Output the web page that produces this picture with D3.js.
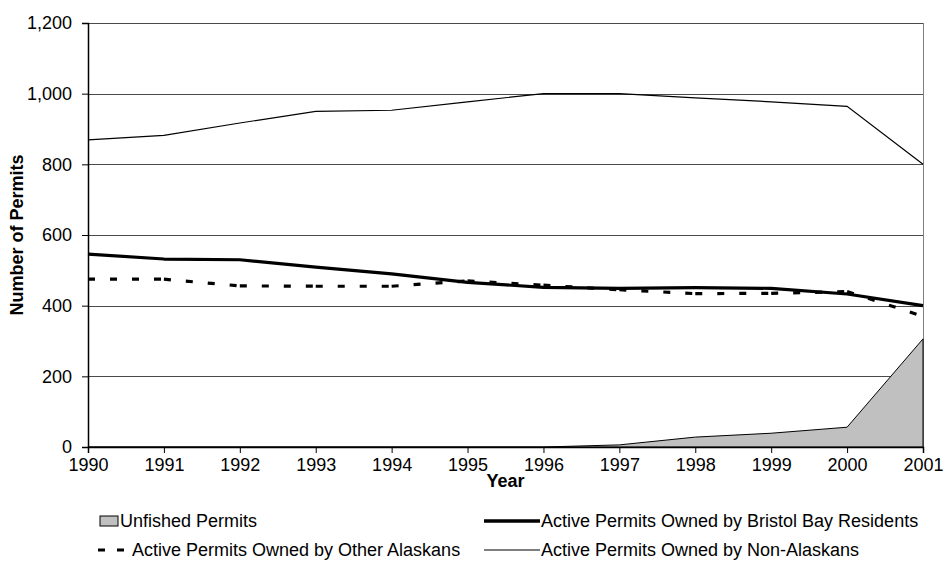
<!DOCTYPE html>
<html>
<head>
<meta charset="utf-8">
<script src="https://cdn.jsdelivr.net/npm/d3@7"></script>
<style>
  html, body { margin: 0; padding: 0; background: #fff; }
  svg { display: block; }
  text { font-family: "Liberation Sans", Arial, sans-serif; fill: #000; }
</style>
</head>
<body>
<svg id="chart" width="946" height="586"></svg>
<script>
// Bristol Bay drift gillnet permits by owner residency, 1990-2001
const years = [1990, 1991, 1992, 1993, 1994, 1995, 1996, 1997, 1998, 1999, 2000, 2001];
const unfished = [0, 0, 0, 0, 0, 0, 0, 6, 28, 39, 56, 306];
const bristolBay = [546, 532, 530, 509, 490, 466, 452, 449, 451, 449, 433, 400];
const otherAlaskans = [475, 475, 456, 455, 455, 470, 458, 445, 434, 435, 440, 370];
const nonAlaskans = [869, 882, 917, 950, 953, 977, 1000, 1000, 988, 977, 964, 800];
const yTicks = [0, 200, 400, 600, 800, 1000, 1200];

const legendItems = [
  { label: "Unfished Permits", kind: "area" },
  { label: "Active Permits Owned by Bristol Bay Residents", kind: "thick" },
  { label: "Active Permits Owned by Other Alaskans", kind: "dash" },
  { label: "Active Permits Owned by Non-Alaskans", kind: "thin" }
];

const svg = d3.select("#chart");
const W = 946, H = 586;
const margin = { top: 23, right: 23, bottom: 139, left: 88 };
const iw = W - margin.left - margin.right;
const ih = H - margin.top - margin.bottom;

const g = svg.append("g").attr("transform", `translate(${margin.left},${margin.top})`);

const x = d3.scaleLinear().domain([1990, 2001]).range([0, iw]);
const y = d3.scaleLinear().domain([0, 1200]).range([ih, 0]);

// horizontal gridlines
g.append("g").selectAll("line")
  .data(yTicks.filter(t => t > 0))
  .join("line")
  .attr("x1", 0).attr("x2", iw)
  .attr("y1", d => Math.round(y(d)) + 0.5).attr("y2", d => Math.round(y(d)) + 0.5)
  .attr("stroke", "#4a4a4a").attr("stroke-width", 1);

// right border of plot area
g.append("line")
  .attr("x1", iw + 0.5).attr("x2", iw + 0.5)
  .attr("y1", y(1200)).attr("y2", ih)
  .attr("stroke", "#808080").attr("stroke-width", 1);

// unfished permits area
const areaGen = d3.area()
  .x((d, i) => x(years[i]))
  .y0(y(0))
  .y1(d => y(d));
g.append("path")
  .datum(unfished)
  .attr("d", areaGen)
  .attr("fill", "#c0c0c0")
  .attr("stroke", "#000")
  .attr("stroke-width", 1)
  .attr("stroke-linejoin", "miter");

const lineGen = d3.line()
  .x((d, i) => x(years[i]))
  .y(d => y(d));

// non-Alaskans: thin solid
g.append("path")
  .datum(nonAlaskans)
  .attr("d", lineGen)
  .attr("fill", "none")
  .attr("stroke", "#000")
  .attr("stroke-width", 1.2);

// other Alaskans: dashed, pattern restarts on each segment
const otherPts = otherAlaskans.map((v, i) => [x(years[i]), y(v)]);
g.append("g").selectAll("line")
  .data(d3.pairs(otherPts))
  .join("line")
  .attr("x1", d => d[0][0]).attr("y1", d => d[0][1])
  .attr("x2", d => d[1][0]).attr("y2", d => d[1][1])
  .attr("stroke", "#000")
  .attr("stroke-width", 3.2)
  .attr("stroke-dasharray", "7,15");

// Bristol Bay residents: thick solid
g.append("path")
  .datum(bristolBay)
  .attr("d", lineGen)
  .attr("fill", "none")
  .attr("stroke", "#000")
  .attr("stroke-width", 3.2)
  .attr("stroke-linejoin", "round");

// axes
const fmt = d3.format(",");
const yAxis = g.append("g")
  .call(d3.axisLeft(y).tickValues(yTicks).tickFormat(fmt).tickSize(6).tickPadding(10));
const xAxis = g.append("g")
  .attr("transform", `translate(0,${ih})`)
  .call(d3.axisBottom(x).tickValues(years).tickFormat(d3.format("d")).tickSize(6).tickPadding(5));

[yAxis, xAxis].forEach(a => {
  a.select(".domain").attr("stroke", "#000").attr("stroke-width", 1.5);
  a.selectAll(".tick line").attr("stroke", "#000").attr("stroke-width", 1);
  a.selectAll(".tick text")
    .attr("font-family", "'Liberation Sans', Arial, sans-serif")
    .attr("font-size", 18)
    .attr("fill", "#000");
});

// axis titles
svg.append("text")
  .attr("transform", `translate(23,${margin.top + ih / 2}) rotate(-90)`)
  .attr("text-anchor", "middle")
  .attr("font-size", 18)
  .attr("font-weight", "bold")
  .text("Number of Permits");

svg.append("text")
  .attr("x", margin.left + iw / 2)
  .attr("y", 487)
  .attr("text-anchor", "middle")
  .attr("font-size", 18)
  .attr("font-weight", "bold")
  .text("Year");

// legend, two rows by two columns
const colX = [100, 484];
const rowY = [521, 550];
const legend = svg.append("g");
legendItems.forEach((item, i) => {
  const cx = colX[i % 2];
  const cy = rowY[Math.floor(i / 2)];
  const lg = legend.append("g");
  let textX;
  if (item.kind === "area") {
    lg.append("rect")
      .attr("x", cx).attr("y", cy - 5)
      .attr("width", 18).attr("height", 10)
      .attr("fill", "#c0c0c0").attr("stroke", "#000").attr("stroke-width", 1);
    textX = cx + 20;
  } else if (item.kind === "dash") {
    lg.append("line")
      .attr("x1", cx - 2).attr("x2", cx + 24)
      .attr("y1", cy).attr("y2", cy)
      .attr("stroke", "#000").attr("stroke-width", 3.2)
      .attr("stroke-dasharray", "7,12");
    textX = cx + 32;
  } else {
    lg.append("line")
      .attr("x1", cx).attr("x2", cx + 56)
      .attr("y1", cy).attr("y2", cy)
      .attr("stroke", "#000")
      .attr("stroke-width", item.kind === "thick" ? 3.5 : 1.2);
    textX = cx + 57;
  }
  lg.append("text")
    .attr("x", textX).attr("y", cy)
    .attr("dy", "0.35em")
    .attr("font-size", 18)
    .text(item.label);
});
</script>
</body>
</html>
